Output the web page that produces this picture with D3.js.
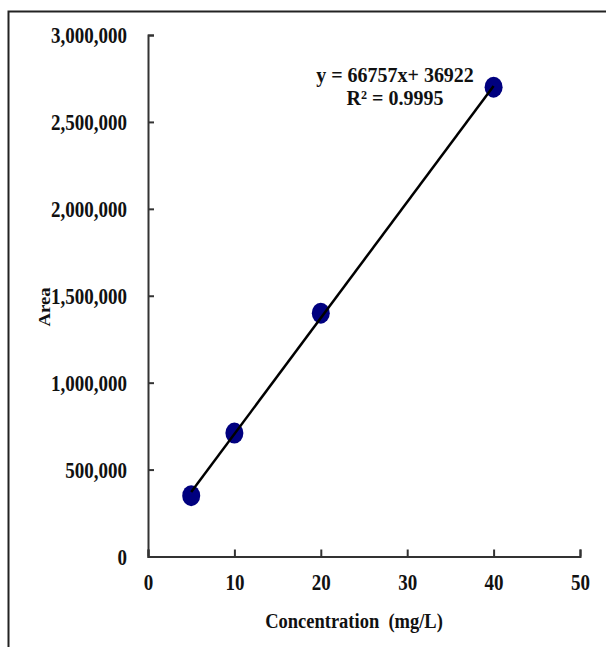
<!DOCTYPE html>
<html>
<head>
<meta charset="utf-8">
<script src="https://cdn.jsdelivr.net/npm/d3@7"></script>
<style>
  body { margin: 0; background: #fff; }
  text { font-family: "Liberation Serif", "Times New Roman", serif; font-weight: bold; fill: #111; }
</style>
</head>
<body>
<div id="chart"></div>
<script>
let w = 606;
let h = 647;

// data
let concentration = [5, 10, 20, 40];
let area = [350000, 710000, 1400000, 2700000];
let xTicks = [0, 10, 20, 30, 40, 50];
let yTicks = [0, 500000, 1000000, 1500000, 2000000, 2500000, 3000000];
let slope = 66757;
let intercept = 36922;
let eqLines = ["y = 66757x+ 36922", "R² = 0.9995"];

let stretch = 1.17; // text in the picture looks a bit tall

let svg = d3.select("#chart")
  .append("svg")
  .attr("width", w)
  .attr("height", h);

// outer frame (runs off the right and bottom edge)
svg.append("rect")
  .attr("x", 8.5)
  .attr("y", 11.5)
  .attr("width", 620)
  .attr("height", 660)
  .attr("fill", "none")
  .attr("stroke", "#222")
  .attr("stroke-width", 2);

let x = d3.scaleLinear().domain([0, 50]).range([148, 580]);
let y = d3.scaleLinear().domain([0, 3000000]).range([556.5, 35]);

// y axis, ticks pointing inward
let yAxis = svg.append("g")
  .attr("transform", "translate(" + x(0) + ",0)")
  .call(d3.axisLeft(y)
    .tickValues(yTicks)
    .tickFormat(d3.format(","))
    .tickSize(-6)
    .tickSizeOuter(-6)
    .tickPadding(21));

yAxis.selectAll("text")
  .attr("font-size", "19px")
  .attr("font-family", null)
  .attr("dy", "0.34em")
  .attr("transform", "scale(1," + stretch + ")");

// x axis
let xAxis = svg.append("g")
  .attr("transform", "translate(0," + y(0) + ")")
  .call(d3.axisBottom(x)
    .tickValues(xTicks)
    .tickSize(-7)
    .tickSizeOuter(-7));

xAxis.selectAll("text")
  .attr("font-size", "19px")
  .attr("font-family", null)
  .attr("y", 0)
  .attr("dy", 0)
  .attr("transform", "translate(0,33) scale(1," + stretch + ")");

svg.selectAll(".domain, .tick line")
  .attr("stroke", "#333")
  .attr("stroke-width", 2);

// data points
svg.selectAll(".pt")
  .data(concentration)
  .enter()
  .append("ellipse")
  .attr("class", "pt")
  .attr("cx", d => x(d))
  .attr("cy", (d, i) => y(area[i]))
  .attr("rx", 9)
  .attr("ry", 10.5)
  .attr("fill", "#00007f");

// linear trend line
let xMin = d3.min(concentration);
let xMax = d3.max(concentration);
svg.append("line")
  .attr("x1", x(xMin))
  .attr("y1", y(slope * xMin + intercept))
  .attr("x2", x(xMax))
  .attr("y2", y(slope * xMax + intercept))
  .attr("stroke", "#000")
  .attr("stroke-width", 2.5);

// equation label
svg.selectAll(".eq")
  .data(eqLines)
  .enter()
  .append("text")
  .attr("class", "eq")
  .attr("text-anchor", "middle")
  .attr("font-size", "20px")
  .attr("transform", (d, i) => "translate(395," + (82 + i * 23) + ") scale(1,1.1)")
  .text(d => d);

// axis titles
svg.append("text")
  .attr("text-anchor", "middle")
  .attr("font-size", "18.5px")
  .attr("transform", "translate(354,628) scale(1," + stretch + ")")
  .text("Concentration\u00a0\u00a0(mg/L)");

svg.append("text")
  .attr("text-anchor", "middle")
  .attr("font-size", "16px")
  .attr("transform", "translate(50,307) rotate(-90) scale(" + stretch + ",1)")
  .text("Area");
</script>
</body>
</html>
